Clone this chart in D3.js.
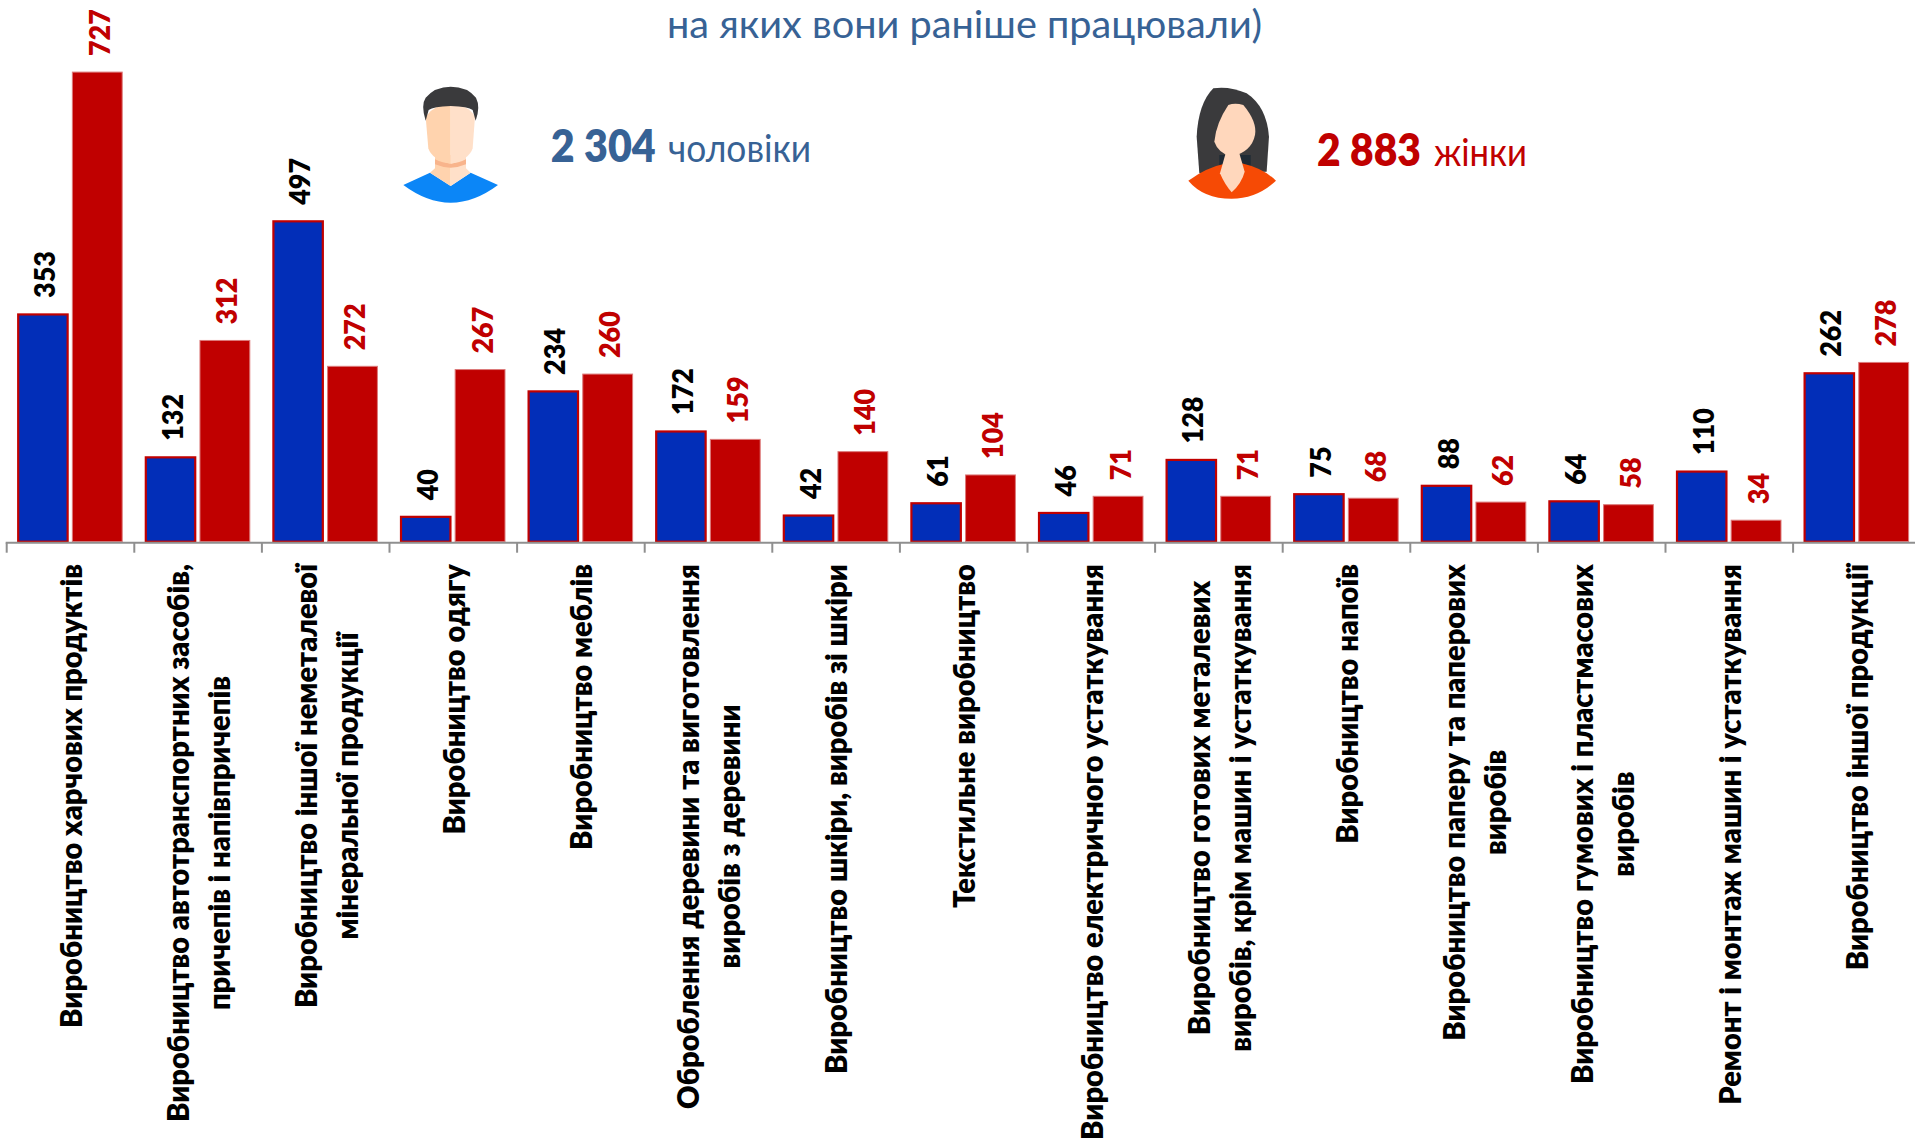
<!DOCTYPE html>
<html><head><meta charset="utf-8">
<style>html,body{margin:0;padding:0;background:#fff;overflow:hidden}svg{display:block}text{font-family:Lato,"Noto Sans",sans-serif}</style>
<script src="https://cdn.jsdelivr.net/npm/d3@7"></script></head><body><div id="c"></div>
<script>
const categories=[
 ["Виробництво харчових продуктів"],
 ["Виробництво автотранспортних засобів,","причепів і напівпричепів"],
 ["Виробництво іншої неметалевої","мінеральної продукції"],
 ["Виробництво одягу"],
 ["Виробництво меблів"],
 ["Оброблення деревини та виготовлення","виробів з деревини"],
 ["Виробництво шкіри, виробів зі шкіри"],
 ["Текстильне виробництво"],
 ["Виробництво електричного устаткування"],
 ["Виробництво готових металевих","виробів, крім машин і устаткування"],
 ["Виробництво напоїв"],
 ["Виробництво паперу та паперових","виробів"],
 ["Виробництво гумових і пластмасових","виробів"],
 ["Ремонт і монтаж машин і устаткування"],
 ["Виробництво іншої продукції"]
];
const men=[353,132,497,40,234,172,42,61,46,128,75,88,64,110,262];
const women=[727,312,272,267,260,159,140,104,71,71,68,62,58,34,278];
const titleText="на яких вони раніше працювали)";

const W=1915,H=1141,base=541.7;
const svg=d3.select("#c").append("svg").attr("width",W).attr("height",H);
const ids=categories.map((d,i)=>i);
const x=d3.scaleBand().domain(ids).range([6.7,6.7+127.6*15]);
const x1=d3.scaleBand().domain(["m","f"]).range([10.5,116]).paddingInner(.07);
const y=d3.scaleLinear().domain([0,727]).range([base,71.6]);
const BLUE="#022eb8",RED="#c00000",TXT="#376295";

function fitted(sel,len){return sel.attr("textLength",len).attr("lengthAdjust","spacingAndGlyphs");}

// title
fitted(svg.append("text").attr("x",667).attr("y",38).attr("font-size",38).attr("fill",TXT).text(titleText),595);

// bars
const g=svg.selectAll("g.c").data(ids).join("g").attr("class","c").attr("transform",i=>`translate(${x(i)},0)`);
g.append("rect").attr("x",i=>x1("m")+1).attr("width",x1.bandwidth()-1.4)
 .attr("y",i=>y(men[i])+1).attr("height",i=>base-y(men[i])-1)
 .attr("fill",BLUE).attr("stroke",RED).attr("stroke-width",2.2);
g.append("rect").attr("x",i=>x1("f")+.5).attr("width",x1.bandwidth()-1)
 .attr("y",i=>y(women[i])+.5).attr("height",i=>base-y(women[i])-.5)
 .attr("fill",RED).attr("stroke","#dc7a7a").attr("stroke-width",1);

// axis
const ax=svg.append("g").attr("stroke","#8f8f8f").attr("stroke-width",2).attr("fill","none");
ax.append("line").attr("x1",x(0)-1).attr("x2",W).attr("y1",base+1).attr("y2",base+1);
ax.selectAll("line.t").data(ids).join("line").attr("class","t")
 .attr("x1",i=>x(i)).attr("x2",i=>x(i)).attr("y1",base+1).attr("y2",base+11);

// value labels
const VS=0.93;
function val(vals,key,fill){
 g.append("text").attr("transform",i=>`translate(${x1(key)+x1.bandwidth()/2+2},${y(vals[i])-15.5}) rotate(-90) scale(${VS},1)`)
  .attr("dy",".36em").attr("font-size",29).attr("font-weight",800).attr("fill",fill)
  .text(i=>vals[i]);
}
val(men,"m","#000");
val(women,"f",RED);

// category labels
const FS=30;
const probe=svg.append("text").attr("font-size",FS).attr("font-weight",800).text(categories[0][0]);
const SX=464/probe.node().getComputedTextLength();
const widths=l=>{probe.text(l);return probe.node().getComputedTextLength()*SX;};
categories.forEach((lines,i)=>{
 const mid=564+d3.max(lines,widths)/2, cx=x(i)+x.bandwidth()/2+0.5;
 lines.forEach((l,k)=>{
  svg.append("text").attr("transform",`translate(${cx+(k-(lines.length-1)/2)*41},${mid}) rotate(-90) scale(${SX},1)`)
   .attr("text-anchor","middle").attr("dy",".36em").attr("font-size",FS).attr("font-weight",800).attr("fill","#000").text(l);
 });
});
probe.remove();

// totals
fitted(svg.append("text").attr("x",550.7).attr("y",162).attr("font-size",45).attr("font-weight",800).attr("fill",TXT).text("2 304"),105);
fitted(svg.append("text").attr("x",668).attr("y",162).attr("font-size",38).attr("fill",TXT).text("чоловіки"),143);
fitted(svg.append("text").attr("x",1317).attr("y",166).attr("font-size",45).attr("font-weight",800).attr("fill",RED).text("2 883"),104);
fitted(svg.append("text").attr("x",1434).attr("y",166).attr("font-size",38).attr("fill",RED).text("жінки"),93);

// man icon
const man=svg.append("g").attr("transform","translate(380,60) scale(0.3333)");
[["M70,375 L150,338 L212,378 L272,338 L354,375 Q212,481 70,375 Z","#0b86f7"],
 ["M165,285 L165,325 L150,338 L212,378 V285 Z","#ffd3ae"],
 ["M258,285 L258,325 L272,338 L212,378 V285 Z","#ffe0c9"],
 ["M165,298 Q212,322 258,298 L258,313 Q212,333 165,313 Z","#f8b48c"],
 ["M137,170 L145,265 Q155,298 212,312 V130 Q160,135 137,170 Z","#ffd3ae"],
 ["M285,170 L278,265 Q268,298 212,312 V130 Q265,135 285,170 Z","#ffe0c9"],
 ["M137,182 Q122,135 137,113 Q165,80 212,80 Q262,80 288,113 Q302,140 287,182 L278,150 Q265,140 212,138 Q160,140 146,150 Z","#3a3a3c"]
].forEach(p=>man.append("path").attr("d",p[0]).attr("fill",p[1]));

// woman icon
const woman=svg.append("g").attr("transform","translate(1160,60) scale(0.3333)");
[["M118,340 L110,230 Q115,130 160,85 Q210,78 260,100 Q320,140 327,230 L320,335 Z","#3a3a3c"],
 ["M178,285 H272 V320 H178 Z","#1e2a35"],
 ["M85,362 Q140,322 200,310 L245,310 Q310,325 348,362 Q290,416 215,416 Q130,416 85,362 Z","#f64a05"],
 ["M197,280 L180,340 Q195,375 215,397 Q245,370 254,335 L238,280 Z","#ffd7bc"],
 ["M163,245 Q168,190 205,135 Q225,128 250,135 Q292,185 285,225 Q275,275 215,290 Q175,280 163,245 Z","#ffd7bc"]
].forEach(p=>woman.append("path").attr("d",p[0]).attr("fill",p[1]));
</script></body></html>
